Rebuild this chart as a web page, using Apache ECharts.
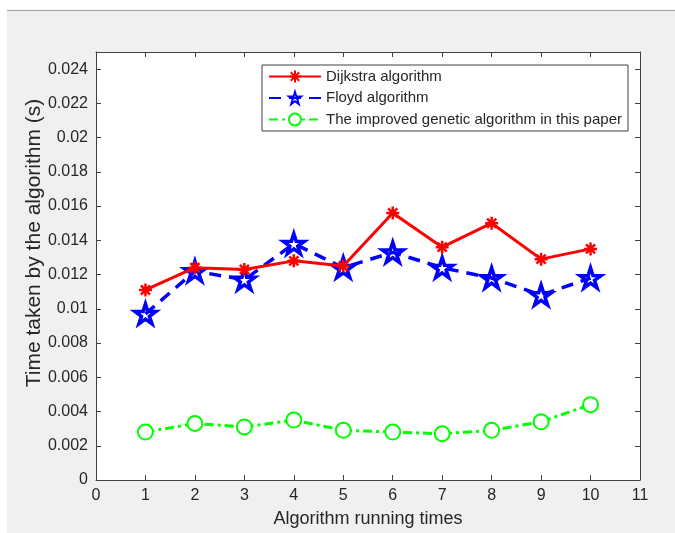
<!DOCTYPE html>
<html>
<head>
<meta charset="utf-8">
<script src="https://cdn.jsdelivr.net/npm/echarts@6/dist/echarts.min.js"></script>
<style>
  html, body { margin: 0; padding: 0; background: #fff; }
  .page { position: relative; width: 675px; height: 533px; background: #fff; overflow: hidden; }
  .chart-box {
    position: absolute; left: 7px; top: 10px;
    width: 668px; height: 522px;
    border-top: 1px solid #a0a0a0;
    background: #f0f0f0;
  }
</style>
</head>
<body>
<div class="page"><div class="chart-box" id="chart"></div></div>
<script>
  // data
  const runs = [1, 2, 3, 4, 5, 6, 7, 8, 9, 10]
  const dijkstra = [0.0111, 0.0124, 0.0123, 0.0128, 0.0125, 0.0156, 0.0136, 0.0150, 0.0129, 0.0135]
  const floyd = [0.0097, 0.0122, 0.0117, 0.0138, 0.0124, 0.0133, 0.0124, 0.0118, 0.0108, 0.0118]
  const improved = [0.0028, 0.0033, 0.0031, 0.0035, 0.0029, 0.0028, 0.0027, 0.0029, 0.0034, 0.0044]
  const seriesNames = ['Dijkstra algorithm', 'Floyd algorithm', 'The improved genetic algorithm in this paper']

  const asterisk = 'path://M0,-10L0,10M-10,0L10,0M-7,-7L7,7M-7,7L7,-7'
  const star = 'path://M0,-100L22,-31L95,-31L36,12L59,81L0,38L-59,81L-36,12L-95,-31L-22,-31Z'
  const font = 'Liberation Sans'
  const axisColor = '#404040'
  const textColor = '#262626'

  const toPairs = arr => runs.map((x, i) => [x, arr[i]])

  const axisBase = {
    type: 'value',
    axisLine: { show: true, onZero: false, lineStyle: { color: axisColor, width: 1 } },
    axisTick: { show: true, inside: true, length: 5, lineStyle: { color: axisColor } },
    splitLine: { show: false },
  }

  const chart = echarts.init(document.getElementById('chart'))
  chart.setOption({
    animation: false,
    textStyle: { fontFamily: font },
    grid: { left: 89, top: 41, right: 35, bottom: 52, show: true, backgroundColor: '#fff', borderWidth: 0 },
    legend: {
      data: seriesNames,
      orient: 'vertical',
      left: 255, top: 54,
      padding: [4, 6, 4, 6],
      itemWidth: 52, itemHeight: 15, itemGap: 6.5,
      backgroundColor: '#fff',
      borderColor: axisColor, borderWidth: 1,
      textStyle: { fontFamily: font, fontSize: 15, color: textColor },
    },
    xAxis: [
      {
        ...axisBase,
        min: 0, max: 11, interval: 1,
        position: 'bottom',
        axisLabel: { show: true, margin: 8, fontSize: 16, color: textColor, fontFamily: font },
        name: 'Algorithm running times',
        nameLocation: 'middle',
        nameGap: 30,
        nameMoveOverlap: false,
        nameTextStyle: { fontSize: 18, color: textColor, fontFamily: font },
      },
      { ...axisBase, min: 0, max: 11, interval: 1, position: 'top', axisLabel: { show: false } },
    ],
    yAxis: [
      {
        ...axisBase,
        min: 0, max: 0.025, interval: 0.002,
        position: 'left',
        axisLabel: { show: true, margin: 8, fontSize: 16, color: textColor, fontFamily: font, showMaxLabel: false },
        name: 'Time taken by the algorithm (s)',
        nameLocation: 'middle',
        nameGap: 51,
        nameMoveOverlap: false,
        nameTextStyle: { fontSize: 21, color: textColor, fontFamily: font, padding: [0, 0, 0, 46] },
      },
      { ...axisBase, min: 0, max: 0.025, interval: 0.002, position: 'right', axisLabel: { show: false } },
    ],
    series: [
      {
        name: seriesNames[0], type: 'line', data: toPairs(dijkstra),
        symbol: asterisk, symbolSize: 13,
        itemStyle: { color: '#ff0000', borderColor: '#ff0000', borderWidth: 2.5 },
        lineStyle: { color: '#ff0000', width: 3, type: 'solid' },
        z: 3,
      },
      {
        name: seriesNames[1], type: 'line', data: toPairs(floyd),
        symbol: star, symbolSize: [21, 20],
        itemStyle: { color: 'rgba(0,0,0,0)', borderColor: '#0000ff', borderWidth: 3.5 },
        lineStyle: { color: '#0000ff', width: 3.5, type: [12, 8] },
        z: 2,
      },
      {
        name: seriesNames[2], type: 'line', data: toPairs(improved),
        symbol: 'emptyCircle', symbolSize: 15,
        itemStyle: { color: '#00ff00', borderColor: '#00ff00', borderWidth: 3 },
        lineStyle: { color: '#00ff00', width: 3, type: [9, 4, 3, 4] },
        z: 2,
      },
    ],
  })
</script>
</body>
</html>
